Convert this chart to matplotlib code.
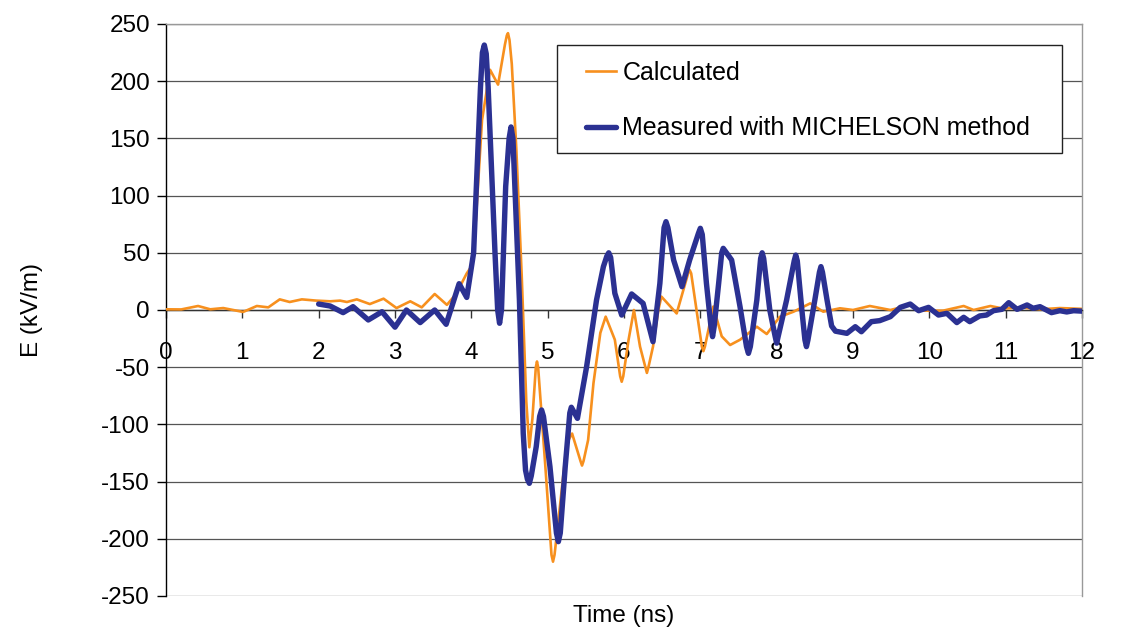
import matplotlib
matplotlib.use("Agg")
import matplotlib.pyplot as plt
from matplotlib.patches import Rectangle

# ---------------------------
# Data, (time in ns, E in kV/m)
# ---------------------------
calculated = [
    (0.0, 0.6), (0.2, 0.5), (0.42, 3.5), (0.58, 0.6), (0.75, 1.7), (1.01, -1.7),
    (1.19, 3.5), (1.34, 2.3), (1.49, 9.3), (1.62, 7.0), (1.78, 9.3), (1.97, 8.2),
    (2.15, 7.6), (2.28, 8.2), (2.37, 7.0), (2.50, 9.3), (2.67, 5.2), (2.85, 9.9),
    (3.02, 1.7), (3.20, 7.6), (3.35, 2.3), (3.52, 14.0), (3.68, 4.5), (3.80, 14.0),
    (3.94, 32), (4.00, 38), (4.06, 79), (4.14, 166), (4.245, 210), (4.35, 197),
    (4.44, 232), (4.465, 240), (4.48, 242), (4.50, 236), (4.53, 215), (4.59, 140),
    (4.66, 30), (4.72, -80), (4.76, -120), (4.80, -95), (4.845, -50), (4.86, -45),
    (4.875, -50), (4.97, -137), (5.05, -214), (5.07, -220), (5.09, -214), (5.16, -172),
    (5.25, -116.5), (5.32, -108), (5.43, -132), (5.45, -136), (5.47, -132), (5.53, -113.6),
    (5.60, -64), (5.69, -20), (5.76, -5.8), (5.88, -26), (5.95, -58), (5.97, -62.7),
    (5.99, -58), (6.06, -26), (6.13, 0), (6.21, -32), (6.28, -50), (6.30, -55),
    (6.32, -50), (6.38, -32), (6.45, 0), (6.49, 11.7), (6.69, -3), (6.84, 32),
    (6.86, 35), (6.88, 32), (6.95, 0), (7.02, -32), (7.04, -36), (7.06, -32),
    (7.17, 3), (7.28, -23), (7.39, -30.6), (7.52, -26), (7.74, -14.6), (7.87, -21),
    (8.04, -6), (8.22, -1.5), (8.44, 5.8), (8.61, -1.5), (8.83, 1.5), (9.0, 0),
    (9.22, 3.5), (9.49, 0), (9.75, 4.4), (9.88, -0.6), (10.18, -0.6), (10.45, 3.5),
    (10.58, 0), (10.80, 3.5), (10.97, 1.2), (11.19, 2.3), (11.45, 0.6), (11.71, 1.7),
    (12.0, 1.0),
]

measured = [
    (2.00, 5.2), (2.15, 3.5), (2.32, -2.3), (2.45, 2.9), (2.65, -8.7), (2.83, -1.5),
    (3.00, -15), (3.15, 0), (3.33, -11), (3.52, 0), (3.67, -12.5), (3.84, 23),
    (3.94, 11), (4.03, 50), (4.12, 195), (4.145, 225), (4.17, 231.6), (4.195, 224),
    (4.22, 195), (4.31, 50), (4.345, 0), (4.37, -11.6), (4.395, 0), (4.42, 50),
    (4.45, 108), (4.495, 150), (4.52, 160), (4.545, 150), (4.57, 108), (4.63, 8.7),
    (4.68, -108), (4.71, -140), (4.735, -148), (4.76, -151.5), (4.785, -145), (4.85, -119.5),
    (4.895, -93), (4.92, -87.4), (4.945, -93), (5.03, -137), (5.115, -195), (5.14, -202.5),
    (5.165, -195), (5.23, -137), (5.29, -90), (5.31, -85), (5.39, -94.7), (5.51, -49.6),
    (5.64, 8.7), (5.73, 37.9), (5.775, 47), (5.80, 50), (5.825, 46), (5.88, 14.6),
    (5.97, -4.4), (6.10, 14), (6.25, 5.8), (6.38, -27.7), (6.47, 23.3), (6.525, 72),
    (6.55, 77.2), (6.575, 72), (6.65, 43.7), (6.76, 20.4), (6.86, 43.7), (6.975, 67),
    (7.00, 71.4), (7.025, 66), (7.08, 23.3), (7.14, -15), (7.16, -23.3), (7.18, -15),
    (7.24, 23.3), (7.28, 50), (7.30, 53.9), (7.41, 43.7), (7.52, 2.9), (7.605, -32),
    (7.63, -37.9), (7.655, -32), (7.74, 8.7), (7.79, 45), (7.81, 50), (7.83, 45),
    (7.91, 0), (7.98, -23), (8.00, -29), (8.02, -23), (8.13, 8.7), (8.23, 43),
    (8.25, 48), (8.27, 43), (8.33, 0), (8.37, -26), (8.39, -32), (8.41, -26),
    (8.50, 8.7), (8.56, 33), (8.58, 37.9), (8.60, 33), (8.66, 8.7), (8.72, -14),
    (8.77, -18.5), (8.92, -20.4), (9.03, -14.6), (9.11, -19), (9.24, -10.2), (9.35, -9.3),
    (9.49, -5.8), (9.62, 2.3), (9.75, 5.2), (9.86, -0.6), (9.99, 2.3), (10.12, -4.4),
    (10.23, -2.9), (10.36, -11), (10.45, -6.4), (10.53, -10.2), (10.66, -5.2), (10.75, -4.4),
    (10.84, -0.6), (10.95, 0.6), (11.04, 6.4), (11.15, 0.6), (11.28, 4.4), (11.36, 1.5),
    (11.45, 2.9), (11.60, -2.3), (11.71, -0.6), (11.80, -1.7), (11.89, -0.6), (12.0, -1.0),
]

x_ticks = list(range(0, 13))
y_ticks = list(range(-250, 251, 50))

t_calc, e_calc = zip(*calculated)
t_meas, e_meas = zip(*measured)

# ---------------------------
# Plot
# ---------------------------
plt.rcParams['font.family'] = ['Liberation Sans', 'DejaVu Sans']
plt.rcParams['axes.unicode_minus'] = False

fig = plt.figure(figsize=(11.35, 6.31), dpi=100)
ax = fig.add_axes([166 / 1135, 1 - 596 / 631, 916 / 1135, 572 / 631])

ax.plot(t_calc, e_calc, color='#F7901E', lw=1.9, solid_joinstyle='round', label="Calculated", zorder=3)
ax.plot(t_meas, e_meas, color='#2B3192', lw=3.9, solid_joinstyle='round',
        solid_capstyle='round', label="Measured with MICHELSON method", zorder=4)

ax.set_xlim(0, 12)
ax.set_ylim(-250, 250)
ax.set_xticks(x_ticks)
ax.set_yticks(y_ticks)
ax.set_yticklabels([str(v) for v in y_ticks])

ax.grid(True, axis='y', color='#555555', lw=0.9)
ax.set_axisbelow(True)

ax.spines['bottom'].set_position(('data', 0))
ax.spines['bottom'].set_color('#333333')
ax.spines['left'].set_color('black')
ax.spines['top'].set_color('#999999')
ax.spines['right'].set_color('#999999')
for s in ax.spines.values():
    s.set_linewidth(1.0)

ax.tick_params(axis='x', direction='out', length=6, width=1, color='#333333',
               labelsize=17.5, pad=17)
ax.tick_params(axis='y', direction='out', length=6.5, width=1, labelsize=17.5, pad=5)

ax.set_xlabel("Time (ns)", fontsize=17.5)
ax.xaxis.set_label_coords(0.5, -0.015)
ax.set_ylabel("E (kV/m)", fontsize=17.5)
ax.yaxis.set_label_coords(-0.134, 0.5)

# legend in a plain black box
ax.add_patch(Rectangle(((557 - 166) / 916, (596 - 153) / 572), 505 / 916, 108 / 572,
                       transform=ax.transAxes, facecolor='white', edgecolor='#222222',
                       lw=1.0, zorder=5))
leg = ax.legend(loc='upper left', bbox_to_anchor=((586 - 166) / 916, (596 - 61) / 572),
                frameon=False, fontsize=18, handlelength=1.2, handletextpad=0.25,
                labelspacing=1.25, borderpad=0, borderaxespad=0)
leg.set_zorder(6)

fig.savefig("out.png", dpi=100)
